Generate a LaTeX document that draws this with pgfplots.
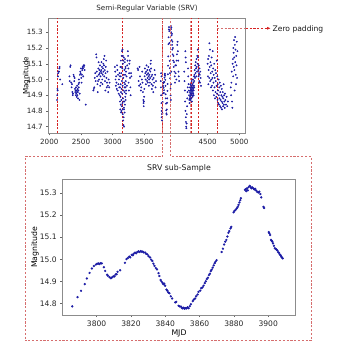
\documentclass[border=0pt]{standalone}
\usepackage{pgfplots}
\pgfplotsset{compat=1.18}
\usepackage{fontspec}
\setmainfont{DejaVu Sans}
\usetikzlibrary{arrows.meta}
\definecolor{dotblue}{RGB}{28,28,165}
\definecolor{darkred}{RGB}{215,35,35}
\definecolor{boxred}{RGB}{214,110,110}
\begin{document}
\begin{tikzpicture}
\path[use as bounding box] (0,0) rectangle (350bp,350bp);
\pgfplotsset{
  srvstyle/.style={
    scale only axis, axis line style={black!45, line width=0.6bp},
    tick pos=left, tick align=outside, major tick length=2bp,
    every tick/.style={black!60, line width=0.5bp},
    /pgf/number format/assume math mode=true,
    every axis y label/.style={at={(rel axis cs:0,0.5)}, rotate=90, anchor=center},
    every axis x label/.style={at={(rel axis cs:0.5,0)}, anchor=base},
  }
}
% ---------------- top panel ----------------
\begin{axis}[srvstyle,
  at={(48.3bp,216.7bp)}, anchor=south west,
  width=197.4bp, height=115bp,
  xmin=1984, xmax=5101, ymin=14.658, ymax=15.389,
  xtick={2000,2500,3000,3500,4500,5000},
  xticklabels={2000,2500,3000,3500,4500,5000},
  ytick={14.7,14.8,14.9,15.0,15.1,15.2,15.3},
  yticklabels={14.7,14.8,14.9,15.0,15.1,15.2,15.3},
  ticklabel style={font=\fontsize{7.2}{8}\selectfont, text=black!85},
  xticklabel style={yshift=-0.5bp},
  ylabel={Magnitude},
  ylabel style={font=\fontsize{7.2}{8}\selectfont, yshift=22bp},
  title={Semi-Regular Variable (SRV)},
  title style={at={(0.5,1)}, anchor=base, yshift=2bp, font=\fontsize{7.2}{8}\selectfont, text=black!85},
]
\foreach \xv in {3153,4238,4649}{
  \edef\tmp{\noexpand\draw[boxred, line width=1.1bp, dash pattern=on 2.2bp off 1.6bp, opacity=0.8] (axis cs:\xv,14.658) -- (axis cs:\xv,15.389);}\tmp
}
\foreach \xv in {2133,3153,3791,3918,4238,4360,4649}{
  \edef\tmp{\noexpand\draw[darkred, line width=0.75bp, dash pattern=on 2.2bp off 1.6bp] (axis cs:\xv,14.658) -- (axis cs:\xv,15.389);}\tmp
}
\draw[boxred, line width=1bp, dash pattern=on 2.2bp off 1.6bp] (axis cs:4649,15.325) -- (axis cs:5101,15.325);
\coordinate (cA) at (axis cs:3791,15.389);
\coordinate (cB) at (axis cs:3918,15.389);
\addplot[only marks, color=dotblue, mark=*, mark size=0.7bp, mark options={draw=none, fill=dotblue}] coordinates {
(2122,14.87)(2125,14.90)(2128,14.94)(2131,14.93)(2136,15.02)(2140,15.04)(2146,15.05)(2152,15.05)(2158,15.07)(2163,15.08)(2172,15.00)(2205,14.97)
(2318,15.02)(2322,14.99)(2330,15.08)(2336,15.09)(2345,14.98)(2352,14.95)(2358,14.97)(2364,14.92)(2370,14.90)(2375,14.91)(2382,15.03)(2388,15.02)(2394,14.99)(2400,15.01)(2405,14.94)(2410,14.92)(2414,14.93)(2418,14.90)(2422,14.95)(2426,14.91)(2430,14.93)(2433,14.89)(2436,14.92)(2440,14.96)(2444,14.90)(2447,14.94)(2450,14.92)(2454,14.88)(2458,14.93)(2461,14.97)(2465,14.95)(2468,15.00)(2472,14.98)(2476,14.87)(2480,14.91)(2484,15.03)(2490,15.05)(2495,15.04)(2500,15.07)(2505,15.01)(2510,14.98)(2515,15.03)(2520,15.06)(2526,15.08)(2531,15.07)(2536,15.02)(2540,15.09)(2546,15.08)(2552,15.09)(2558,15.06)(2575,14.84)
(2695,14.93)(2703,14.94)(2710,14.95)(2718,15.01)(2725,15.04)(2732,14.99)(2740,15.16)(2745,15.14)(2750,15.05)(2755,15.02)(2760,14.97)(2765,14.92)(2770,14.99)(2774,15.07)(2778,15.11)(2782,15.03)(2786,15.00)(2790,15.06)(2795,15.04)(2800,15.09)(2804,14.96)(2808,15.02)(2812,15.05)(2816,14.98)(2820,15.06)(2824,15.11)(2828,15.04)(2832,15.08)(2836,15.00)(2840,14.97)(2844,15.03)(2848,15.07)(2852,15.10)(2856,15.05)(2860,15.13)(2864,15.09)(2868,15.02)(2872,15.15)(2876,15.06)(2880,14.99)(2884,14.93)(2888,15.04)(2892,15.08)(2897,15.12)(2902,15.01)(2907,14.95)(2912,14.98)(2918,15.05)(2924,14.96)(2930,14.92)(2938,15.00)(2945,14.95)(2952,14.98)
(3035,15.08)(3040,15.05)(3045,15.00)(3050,14.96)(3055,15.02)(3060,14.98)(3065,14.94)(3070,15.09)(3075,15.06)(3080,14.93)(3085,15.03)(3090,14.97)(3095,14.91)(3100,15.00)(3105,14.95)(3108,15.04)
(3112,14.90)(3114,15.02)(3116,14.86)(3118,14.95)(3120,14.81)(3122,15.08)(3124,14.89)(3126,14.97)(3128,14.84)(3130,15.12)(3132,14.92)(3134,14.79)(3136,15.04)(3138,14.87)(3140,14.94)(3142,15.15)(3144,14.83)(3146,14.99)(3148,15.18)(3150,14.91)(3152,15.07)(3154,14.85)(3156,15.19)(3158,14.96)(3160,14.78)(3162,15.10)(3164,14.88)(3166,14.74)(3168,15.01)(3170,14.71)(3172,14.93)(3174,14.76)(3176,15.14)(3178,14.82)(3180,14.70)(3182,14.98)(3184,14.86)(3186,15.06)(3188,14.79)(3190,14.92)(3192,15.11)(3194,14.84)(3196,14.97)(3198,15.03)(3200,14.89)(3202,14.95)(3204,15.08)(3206,14.87)(3208,14.99)(3210,14.91)(3212,15.05)(3214,14.93)
(3128,15.02)(3134,15.08)(3138,14.80)(3158,14.81)(3162,15.15)(3168,15.12)(3171,14.86)(3176,15.03)(3181,14.81)(3187,14.95)(3195,15.13)(3203,15.07)
(3220,15.02)(3225,14.96)(3230,15.09)(3235,15.12)(3240,15.18)(3244,15.15)(3248,15.07)(3252,14.98)(3256,14.93)(3260,15.04)(3265,15.10)(3270,15.12)(3275,15.01)(3280,14.95)(3285,14.90)(3290,15.04)(3296,15.02)
(3395,15.07)(3402,15.06)(3410,14.99)(3418,14.96)(3425,15.08)(3432,15.02)(3438,14.97)(3445,14.93)(3452,14.95)(3460,15.00)(3466,15.05)(3472,14.98)(3478,14.92)(3485,14.87)(3488,14.85)(3491,14.83)(3494,14.86)(3497,14.89)(3500,14.94)(3505,15.02)(3510,15.07)(3515,15.04)(3520,15.00)(3525,14.97)(3530,15.05)(3535,15.09)(3540,15.03)(3544,14.99)(3548,15.06)(3552,15.01)(3556,14.98)(3560,15.04)(3564,15.08)(3568,15.02)(3572,14.96)(3576,15.00)(3580,15.03)(3584,15.06)(3588,14.98)(3592,15.01)(3596,15.05)(3600,15.10)(3604,15.12)(3608,15.07)(3612,15.02)(3616,14.97)(3620,14.94)(3625,15.03)(3630,15.00)(3636,14.96)(3642,14.92)(3648,15.01)(3655,14.98)(3662,15.06)(3670,15.03)(3678,14.95)(3685,14.99)
(3760,14.99)(3762,14.95)(3765,15.04)(3766,14.90)(3770,14.85)(3771,15.02)(3772,14.80)(3775,14.76)(3778,14.74)(3780,14.78)(3782,14.82)
(3785.8,14.786)(3790.9,14.857)(3794.3,14.913)(3797.2,14.958)(3799.6,14.976)(3802.2,14.982)(3805.0,14.947)(3808.3,14.914)(3811.6,14.932)(3816.5,14.984)(3819.0,15.012)(3822.4,15.030)(3825.7,15.037)(3828.9,15.024)(3831.8,14.998)(3834.5,14.960)(3837.3,14.906)(3839.9,14.880)(3842.4,14.846)(3845.8,14.804)(3849.2,14.785)(3852.4,14.777)(3856.0,14.810)(3859.4,14.852)(3862.3,14.880)(3865.4,14.928)(3868.2,14.972)(3872.8,15.033)(3875.6,15.088)(3878.5,15.147)(3881.1,15.225)(3883.7,15.268)(3886.8,15.318)(3889.2,15.333)(3891.9,15.317)(3894.8,15.307)(3897.6,15.233)(3900.7,15.118)(3902.8,15.072)(3905.3,15.040)(3908.0,15.008)
(3914,14.94)(3916,14.90)(3919,14.87)(3922,14.97)(3925,15.05)
(3918,15.34)(3921,15.32)(3924,15.30)(3927,15.33)(3930,15.28)(3933,15.25)(3936,15.29)(3939,15.22)(3942,15.19)(3945,15.24)(3948,15.16)(3952,15.20)(3956,15.12)(3960,15.15)(3965,15.08)(3970,15.11)(3975,15.05)(3980,15.02)(3985,14.98)(3990,15.09)(3995,15.04)(4000,15.09)(4005,15.00)(4010,15.12)(4015,15.16)(4020,15.22)(4025,15.24)(4030,15.18)(4035,15.12)(4040,15.05)(4045,15.02)(4050,14.99)
(4130,15.05)(4135,14.99)(4140,14.93)(4145,14.86)(4150,14.80)(4155,14.76)(4158,14.73)(4161,14.70)(4165,14.69)(4168,14.72)(4172,14.78)(4175,14.83)(4178,14.88)(4182,14.92)(4186,14.95)(4190,15.07)(4194,15.02)(4198,14.97)(4202,14.93)(4206,14.90)(4210,14.87)(4214,14.85)(4218,14.88)(4148,15.18)(4152,15.14)(4156,15.11)
(4220,14.92)(4222,14.95)(4224,14.89)(4226,14.93)(4228,14.97)(4230,14.91)(4232,14.87)(4234,14.94)(4236,14.90)(4238,14.96)(4240,14.92)(4242,14.88)(4244,14.95)(4246,14.93)(4248,14.99)(4250,14.91)(4252,14.86)(4254,14.94)(4256,14.90)(4258,14.97)(4260,14.93)(4262,14.89)(4264,14.95)(4266,14.92)(4268,15.00)(4270,14.96)(4272,14.91)(4274,14.94)(4276,14.98)(4278,14.93)(4280,14.90)(4282,14.96)(4284,15.02)(4286,14.99)(4288,14.95)
(4292,15.03)(4296,15.06)(4300,15.01)(4304,15.09)(4308,15.04)(4312,15.11)(4316,15.07)(4320,15.02)(4324,15.13)(4328,15.08)(4332,15.05)(4336,15.15)(4340,15.10)(4344,15.19)(4348,15.14)(4352,15.06)(4356,15.02)(4360,15.09)(4364,15.04)(4368,14.99)(4372,15.07)(4376,15.03)(4380,14.98)(4385,15.05)(4390,15.01)(4395,14.96)
(4500,15.10)(4504,15.02)(4508,15.13)(4512,14.97)(4516,15.06)(4520,15.15)(4524,15.01)(4528,15.23)(4532,15.08)(4536,15.19)(4540,14.99)(4544,15.11)(4548,15.04)(4552,14.95)(4556,15.09)(4560,15.00)(4564,15.14)(4568,14.96)(4572,15.05)(4576,15.01)(4580,15.18)(4584,14.93)(4588,15.07)(4592,14.98)(4596,15.03)(4600,14.90)(4604,15.10)(4608,14.95)(4612,15.01)(4616,14.88)(4620,15.06)(4624,14.92)(4628,14.99)(4632,15.04)(4636,14.89)(4640,14.96)(4644,15.12)(4648,14.91)(4652,15.02)(4656,14.87)(4660,14.97)(4664,14.93)(4668,14.85)(4672,15.00)(4676,14.90)(4680,14.84)(4684,14.95)(4688,14.88)(4692,14.98)(4696,14.83)(4700,14.92)(4704,14.87)(4708,14.96)(4712,14.82)(4716,14.90)(4720,14.86)(4724,14.94)(4728,14.81)(4732,14.89)(4736,14.85)(4740,14.92)(4744,14.83)(4748,14.88)(4752,14.97)(4756,14.84)(4760,14.90)(4765,14.86)(4770,14.82)(4775,14.91)(4780,14.87)(4790,14.84)(4800,14.89)(4810,14.83)(4820,14.86)
(4865,14.95)(4870,14.90)(4875,14.98)(4880,15.05)(4885,14.86)(4890,14.82)(4895,15.10)(4900,15.13)(4903,15.02)(4906,15.20)(4910,15.17)(4913,15.08)(4916,15.25)(4920,15.14)(4923,15.06)(4926,14.93)(4930,15.22)(4933,15.27)(4936,15.11)(4940,15.19)(4944,15.03)(4948,14.97)(4952,15.15)(4956,15.09)(4960,15.24)(4965,15.01)(4970,15.18)
};
\end{axis}
% connectors and box
\draw[boxred, line width=1bp, dash pattern=on 2.2bp off 1.6bp]
  (cA) -- (cA |- 0,193.3bp) -- (25bp,193.3bp) -- (25bp,9bp) -- (311bp,9bp) -- (311bp,193.3bp) -- (cB |- 0,193.3bp) -- (cB);
\draw[darkred, line width=0.75bp, dash pattern=on 2.2bp off 1.6bp, -{Latex[length=3.5bp,width=3bp]}]
  (245.7bp,321.7bp) -- (270.7bp,321.7bp);
\node[anchor=west, inner sep=0pt, font=\fontsize{7.6}{8}\selectfont, text=black!90] at (272.5bp,320.6bp) {Zero padding};
% ---------------- bottom panel ----------------
\begin{axis}[srvstyle,
  at={(62.3bp,35bp)}, anchor=south west,
  width=233.4bp, height=135.7bp,
  xmin=3780, xmax=3916, ymin=14.747, ymax=15.363,
  xtick={3800,3820,3840,3860,3880,3900},
  xticklabels={3800,3820,3840,3860,3880,3900},
  ytick={14.8,14.9,15.0,15.1,15.2,15.3},
  yticklabels={14.8,14.9,15.0,15.1,15.2,15.3},
  ticklabel style={font=\fontsize{7.6}{8}\selectfont, text=black!85},
  xlabel={MJD}, ylabel={Magnitude},
  xlabel style={font=\fontsize{7.8}{8}\selectfont, yshift=-20.5bp},
  ylabel style={font=\fontsize{7.8}{8}\selectfont, yshift=27.3bp},
  title={SRV sub-Sample},
  title style={at={(0.5,1)}, anchor=base, yshift=2.9bp, font=\fontsize{7.8}{8}\selectfont, text=black!90},
]
\addplot[only marks, color=dotblue, mark=*, mark size=0.95bp, mark options={draw=none, fill=dotblue}] coordinates {
(3785.8,14.786)(3788.9,14.828)(3790.9,14.857)(3793.1,14.887)(3794.3,14.913)(3795.9,14.938)(3797.2,14.958)(3798.4,14.969)(3799.6,14.976)(3800.3,14.980)
(3801.0,14.981)(3801.6,14.978)(3802.2,14.982)(3803.0,14.981)(3804.2,14.964)(3805.0,14.947)(3806.1,14.930)(3806.6,14.925)(3807.5,14.919)(3808.3,14.914)
(3808.9,14.917)(3809.7,14.922)(3810.4,14.922)(3811.1,14.931)(3811.6,14.932)(3812.2,14.943)(3813.7,14.950)(3816.5,14.984)(3817.4,15.001)(3818.2,15.006)
(3819.0,15.012)(3819.6,15.009)(3820.4,15.020)(3821.1,15.018)(3821.6,15.025)(3822.4,15.030)(3823.0,15.027)(3823.7,15.033)(3824.4,15.036)(3825.0,15.033)
(3825.7,15.037)(3826.3,15.034)(3826.9,15.035)(3827.5,15.031)(3828.3,15.030)(3828.9,15.024)(3829.6,15.022)(3830.3,15.014)(3831.2,15.008)(3831.8,14.998)
(3832.5,14.992)(3833.1,14.980)(3833.7,14.970)(3834.5,14.960)(3835.2,14.954)(3836.1,14.937)(3836.6,14.924)(3837.3,14.906)(3837.8,14.899)(3838.4,14.893)
(3838.9,14.887)(3839.4,14.889)(3839.9,14.880)(3840.7,14.862)(3841.2,14.857)(3841.8,14.849)(3842.4,14.846)(3843.2,14.832)(3844.0,14.822)(3845.8,14.804)
(3846.4,14.807)(3847.7,14.789)(3848.4,14.786)(3849.2,14.785)(3849.7,14.779)(3850.2,14.777)(3850.7,14.780)(3851.2,14.776)(3851.8,14.778)(3852.4,14.777)
(3853.0,14.782)(3853.6,14.778)(3854.3,14.787)(3854.9,14.796)(3856.0,14.810)(3856.6,14.817)(3857.4,14.822)(3858.0,14.832)(3858.8,14.840)(3859.4,14.852)
(3860.4,14.858)(3861.0,14.869)(3861.6,14.872)(3862.3,14.880)(3863.0,14.892)(3863.6,14.900)(3864.2,14.910)(3864.8,14.916)(3865.4,14.928)(3866.0,14.934)
(3866.5,14.946)(3867.0,14.952)(3867.6,14.962)(3868.2,14.972)(3868.8,14.982)(3869.3,14.989)(3869.9,14.996)(3872.8,15.033)(3873.6,15.048)(3874.3,15.067)
(3875.0,15.080)(3875.6,15.088)(3876.2,15.103)(3876.8,15.120)(3877.3,15.128)(3878.0,15.140)(3878.5,15.147)(3879.8,15.213)(3880.4,15.220)(3881.1,15.225)
(3881.6,15.231)(3882.2,15.238)(3882.7,15.247)(3883.2,15.258)(3883.7,15.268)(3884.1,15.277)(3886.4,15.315)(3886.8,15.318)(3887.2,15.309)(3887.6,15.322)
(3888.1,15.313)(3888.5,15.327)(3889.2,15.333)(3889.7,15.328)(3890.2,15.322)(3890.8,15.326)(3891.4,15.321)(3891.9,15.317)(3892.4,15.320)(3893.0,15.312)
(3893.6,15.306)(3894.2,15.303)(3894.8,15.307)(3895.4,15.296)(3895.9,15.281)(3897.2,15.238)(3897.6,15.233)(3900.3,15.123)(3900.7,15.118)(3901.1,15.110)
(3901.6,15.088)(3902.0,15.084)(3902.4,15.080)(3902.8,15.072)(3903.3,15.061)(3903.8,15.050)(3904.3,15.048)(3904.8,15.044)(3905.3,15.040)(3905.8,15.032)
(3906.2,15.030)(3906.7,15.022)(3907.2,15.018)(3907.6,15.012)(3908.0,15.008)(3908.4,15.004)
};
\end{axis}
\end{tikzpicture}
\end{document}
